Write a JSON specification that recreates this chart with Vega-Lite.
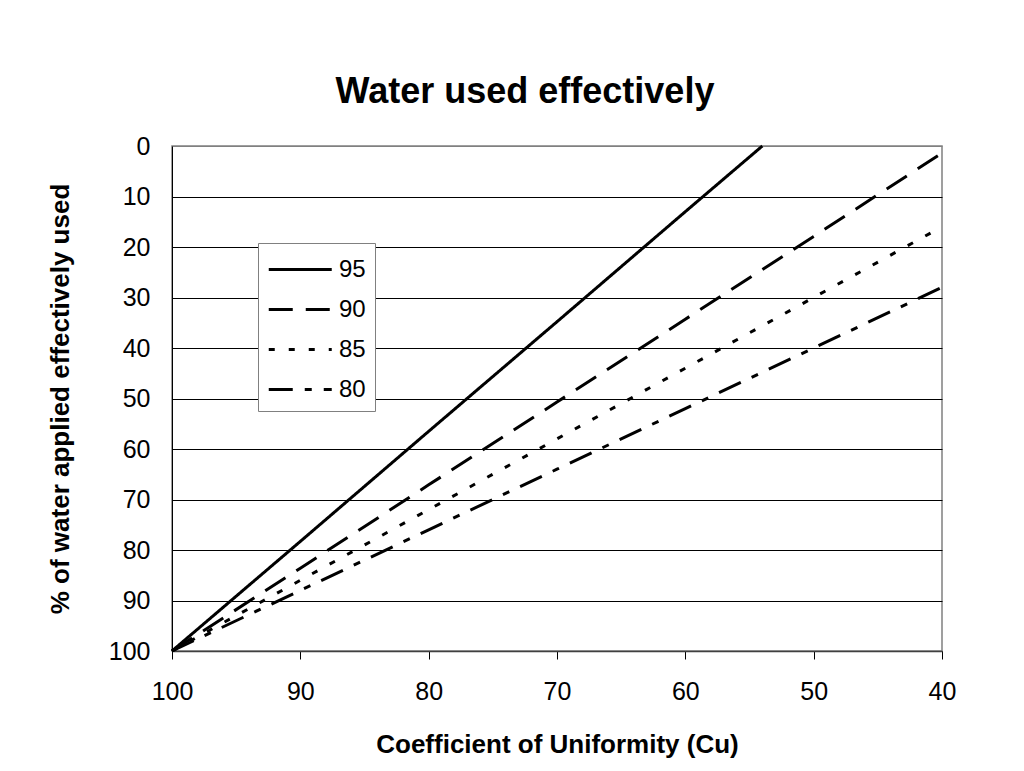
{
  "$schema": "https://vega.github.io/schema/vega-lite/v6.json",
  "width": 770,
  "height": 505,
  "autosize": {"type": "none"},
  "padding": {"left": 172, "top": 146, "right": 82, "bottom": 120},
  "background": "white",
  "config": {
    "font": "Liberation Sans",
    "view": {"stroke": "#808080", "strokeWidth": 1.5}
  },
  "title": {
    "text": "Water used effectively",
    "fontSize": 36,
    "fontWeight": "bold",
    "color": "black",
    "anchor": "middle",
    "dx": -32,
    "offset": 23
  },
  "data": {
    "values": [
      {"cu": 100, "pct": 100, "series": "95"},
      {"cu": 90, "pct": 78.3, "series": "95"},
      {"cu": 80, "pct": 56.5, "series": "95"},
      {"cu": 70, "pct": 34.8, "series": "95"},
      {"cu": 60, "pct": 13.0, "series": "95"},
      {"cu": 54, "pct": 0, "series": "95"},
      {"cu": 100, "pct": 100, "series": "90"},
      {"cu": 90, "pct": 83.6, "series": "90"},
      {"cu": 80, "pct": 67.1, "series": "90"},
      {"cu": 70, "pct": 50.7, "series": "90"},
      {"cu": 60, "pct": 34.3, "series": "90"},
      {"cu": 50, "pct": 17.9, "series": "90"},
      {"cu": 40, "pct": 1.4, "series": "90"},
      {"cu": 100, "pct": 100, "series": "85"},
      {"cu": 90, "pct": 86, "series": "85"},
      {"cu": 80, "pct": 72, "series": "85"},
      {"cu": 70, "pct": 58, "series": "85"},
      {"cu": 60, "pct": 44, "series": "85"},
      {"cu": 50, "pct": 30, "series": "85"},
      {"cu": 40, "pct": 16, "series": "85"},
      {"cu": 100, "pct": 100, "series": "80"},
      {"cu": 90, "pct": 88, "series": "80"},
      {"cu": 80, "pct": 76, "series": "80"},
      {"cu": 70, "pct": 64, "series": "80"},
      {"cu": 60, "pct": 52, "series": "80"},
      {"cu": 50, "pct": 40, "series": "80"},
      {"cu": 40, "pct": 28, "series": "80"}
    ]
  },
  "mark": {"type": "line", "strokeWidth": 3, "color": "black", "strokeCap": "butt"},
  "encoding": {
    "x": {
      "field": "cu",
      "type": "quantitative",
      "scale": {"domain": [40, 100], "reverse": true, "nice": false, "zero": false},
      "axis": {
        "values": [100, 90, 80, 70, 60, 50, 40],
        "grid": false,
        "labelFlush": false,
        "title": "Coefficient of Uniformity (Cu)",
        "titleFontSize": 26,
        "titleFontWeight": "bold",
        "titleColor": "black",
        "titlePadding": 27,
        "labelFontSize": 25,
        "labelColor": "black",
        "labelPadding": 20,
        "tickSize": 8,
        "tickColor": "black",
        "domainColor": "#404040",
        "domainWidth": 1.5
      }
    },
    "y": {
      "field": "pct",
      "type": "quantitative",
      "scale": {"domain": [0, 100], "reverse": true, "nice": false},
      "axis": {
        "values": [0, 10, 20, 30, 40, 50, 60, 70, 80, 90, 100],
        "grid": true,
        "labelFlush": false,
        "gridColor": {"condition": {"test": "datum.value === 0", "value": "#808080"}, "value": "black"},
        "gridWidth": 1,
        "gridOpacity": 1,
        "ticks": false,
        "title": "% of water applied effectively used",
        "titleFontSize": 26,
        "titleFontWeight": "bold",
        "titleColor": "black",
        "titlePadding": 35,
        "labelFontSize": 25,
        "labelColor": "black",
        "labelPadding": 22,
        "domainColor": "black",
        "domainWidth": 1
      }
    },
    "strokeDash": {
      "field": "series",
      "type": "nominal",
      "scale": {
        "domain": ["95", "90", "85", "80"],
        "range": [[1, 0], [24, 13], [6, 14], [24, 12, 7, 12]]
      },
      "legend": {
        "title": null,
        "orient": "none",
        "legendX": 86,
        "legendY": 97,
        "fillColor": "white",
        "strokeColor": "#808080",
        "padding": 9,
        "rowPadding": 10,
        "symbolType": "M-1,0H3",
        "symbolSize": 992,
        "symbolStrokeWidth": 3,
        "symbolStrokeColor": "black",
        "labelFontSize": 24,
        "labelColor": "black",
        "labelOffset": 37
      }
    }
  }
}
